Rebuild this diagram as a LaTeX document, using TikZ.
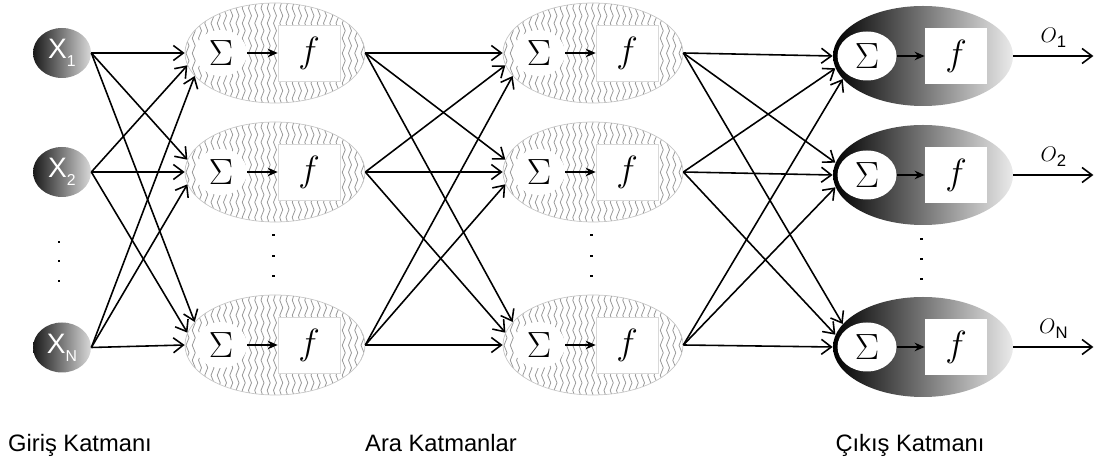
\documentclass[tikz,border=0pt]{standalone}
\usepackage{fontspec}
\usepackage{tikz}
\usetikzlibrary{arrows.meta,positioning,shapes.geometric,decorations.pathmorphing}
\newfontfamily\arialfont{Liberation Sans}

\begin{document}
\begin{tikzpicture}[
    inp/.style={ellipse, minimum width=1.16cm, minimum height=1cm, inner sep=0pt, left color=black!90, right color=black!15, text=white, font=\arialfont\fontsize{16}{18}\selectfont},
    wavy/.style={gray!80, line width=0.45pt, decorate, decoration={snake, segment length=3mm, amplitude=0.3mm}},
    hid/.style={ellipse, draw=gray!45, minimum width=3.6cm, minimum height=2cm, inner sep=0pt,
        path picture={\foreach \k in {-15,...,15} \draw[wavy] ([xshift=\k*1.25mm]path picture bounding box.south) -- ([xshift=\k*1.25mm]path picture bounding box.north);}},
    outn/.style={ellipse, minimum width=3.6cm, minimum height=2cm, inner sep=0pt, left color=black, right color=black!8},
    sig/.style={ellipse, fill=white, minimum width=1.04cm, minimum height=0.92cm, inner sep=0pt, font=\fontsize{20}{22}\selectfont},
    fbox/.style={rectangle, fill=white, minimum width=1.24cm, minimum height=1.12cm, inner sep=0pt, font=\fontsize{22}{24}\selectfont},
    arr/.style={-{Straight Barb[length=2mm,width=3mm]}, line width=0.9pt},
    inarr/.style={-{Stealth[length=2mm,width=1.7mm]}, line width=1.4pt},
    lab/.style={anchor=base, font=\arialfont\fontsize{13.5}{15}\selectfont}
]
\useasboundingbox (0,0) rectangle (22.1,-9.28);

% input layer
\foreach \r/\y/\s in {1/-1.06/1, 2/-3.44/2, 3/-6.95/N}
    \node[inp] (x\r) at (1.24,\y) {X\raisebox{-0.55ex}{\fontsize{9}{9}\selectfont\s}};

% hidden layers
\foreach \c/\x in {a/5.5, b/11.86} {
    \foreach \r/\y in {1/-1.06, 2/-3.44, 3/-6.9} {
        \node[hid] (\c\r) at (\x,\y) {};
        \node[sig] (s\c\r) at ([xshift=-1.08cm]\c\r.center) {$\Sigma$};
        \node[fbox, draw=gray!30, line width=0.3pt] (f\c\r) at ([xshift=0.68cm]\c\r.center) {$f$};
        \draw[inarr] (s\c\r) -- (f\c\r);
    }
}

% output layer
\foreach \r/\y/\s in {1/-1.12/1, 2/-3.5/2, 3/-6.94/N} {
    \node[outn] (o\r) at (18.46,\y) {};
    \node[sig, minimum width=1.18cm, minimum height=0.98cm] (so\r) at ([xshift=-1.12cm]o\r.center) {$\Sigma$};
    \node[fbox] (fo\r) at ([xshift=0.66cm]o\r.center) {$f$};
    \draw[inarr] (so\r) -- (fo\r);
    \coordinate (e\r) at ([xshift=1.6cm]o\r.east);
    \draw[arr] (o\r.east) -- (e\r) node[midway, above=1pt, font=\fontsize{13}{15}\selectfont] (ol\r) {$O$\raisebox{-0.5ex}{\arialfont\fontsize{9.5}{9.5}\selectfont\s}};
}

% connections
\foreach \i in {1,2,3} {
    \foreach \j in {1,2,3} {
        \pgfmathtruncatemacro\ang{180-8*(\j-\i)}
        \draw[arr] (x\i.east) -- (a\j.\ang);
        \draw[arr] (a\i.east) -- (b\j.\ang);
        \draw[arr] (b\i.east) -- (o\j.\ang);
    }
}

% dots
\foreach \x/\ya/\yb/\yc in {1.18/-4.84/-5.22/-5.62, 5.46/-4.7/-5.12/-5.52, 11.82/-4.7/-5.12/-5.52, 18.42/-4.78/-5.18/-5.58}
    \foreach \yy in {\ya,\yb,\yc}
        \fill (\x-0.03,\yy-0.025) rectangle ++(0.06,0.05);

% layer names
\node[lab] (giris) at (1.6,-9.04) {Giriş Katmanı};
\node[lab] (ara) at (8.82,-9.04) {Ara Katmanlar};
\node[lab] (cikis) at (18.2,-9.04) {Çıkış Katmanı};
\end{tikzpicture}
\end{document}
